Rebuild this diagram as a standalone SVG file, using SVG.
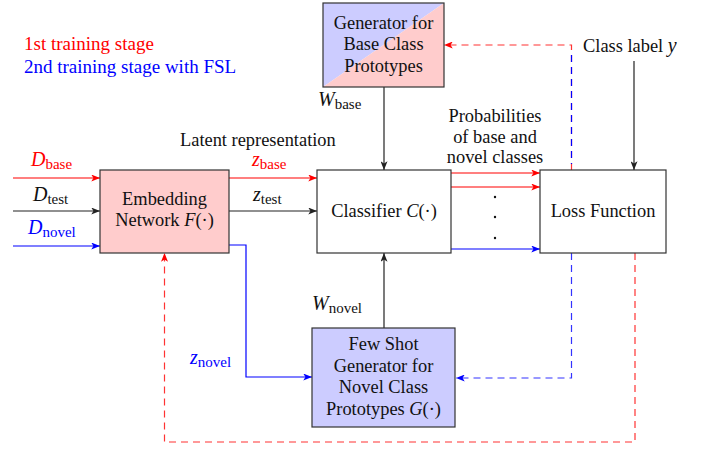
<svg xmlns="http://www.w3.org/2000/svg" width="709" height="449" viewBox="0 0 709 449">
<style>
text{font-family:"Liberation Serif","Times New Roman",serif;font-size:18.4px;fill:#111}
.c{text-anchor:middle}
.i{font-style:italic}
.m{font-style:italic;font-size:20px}
.s{font-size:15px}
.box{stroke:#333;stroke-width:1.2}
.ln{fill:none;stroke-width:1.2}
.k{stroke:#222}
.r{stroke:#ff0000}
.b{stroke:#0000ff}
.dr{stroke:#ff3333;stroke-dasharray:7 5}
.db{stroke:#0000ff;stroke-dasharray:7 5}
.red{fill:#ff0000}
.blue{fill:#0000ff}
</style>
<defs>
<marker id="ak" viewBox="0 0 10 8" refX="10" refY="4" markerWidth="9" markerHeight="7" markerUnits="userSpaceOnUse" orient="auto"><path d="M0,0 L10,4 L0,8 L2.5,4 z" fill="#222"/></marker>
<marker id="ar" viewBox="0 0 10 8" refX="10" refY="4" markerWidth="9" markerHeight="7" markerUnits="userSpaceOnUse" orient="auto"><path d="M0,0 L10,4 L0,8 L2.5,4 z" fill="#ff0000"/></marker>
<marker id="ab" viewBox="0 0 10 8" refX="10" refY="4" markerWidth="9" markerHeight="7" markerUnits="userSpaceOnUse" orient="auto"><path d="M0,0 L10,4 L0,8 L2.5,4 z" fill="#0000ff"/></marker>
</defs>
<rect width="709" height="449" fill="#fff"/>

<g id="legend">
<text x="24" y="50" class="red" style="font-size:19px">1st training stage</text>
<text x="24" y="73" class="blue" style="font-size:19px">2nd training stage with FSL</text>
</g>

<g id="connectors">
<!-- inputs -->
<path class="ln r" d="M13,178 H100" marker-end="url(#ar)"/>
<path class="ln k" d="M13,211 H100" marker-end="url(#ak)"/>
<path class="ln b" d="M13,246 H100" marker-end="url(#ab)"/>
<!-- embedding to classifier -->
<path class="ln r" d="M229,178 H317" marker-end="url(#ar)"/>
<path class="ln k" d="M229,211 H317" marker-end="url(#ak)"/>
<path class="ln b" d="M229,245 H246 V377 H312" marker-end="url(#ab)"/>
<!-- generators to classifier -->
<path class="ln k" d="M384,87 V170" marker-end="url(#ak)"/>
<path class="ln k" d="M384,328 V253" marker-end="url(#ak)"/>
<!-- classifier to loss -->
<path class="ln r" d="M451,173 H540" marker-end="url(#ar)"/>
<path class="ln r" d="M451,187 H540" marker-end="url(#ar)"/>
<path class="ln b" d="M451,249 H540" marker-end="url(#ab)"/>
<!-- class label -->
<path class="ln k" d="M634,61 V170" marker-end="url(#ak)"/>
<!-- loss feedback to base generator -->
<path class="ln dr" d="M571.5,170 V45 H444" marker-end="url(#ar)"/>
<path class="ln db" d="M571.5,164 V50" style="stroke-dashoffset:6"/>
<!-- loss feedback to few shot generator -->
<path class="ln db" d="M571.5,253 V378 H456" marker-end="url(#ab)" style="stroke:#3333ff"/>
<!-- loss feedback to embedding -->
<path class="ln dr" d="M635,253 V442 H164.5 V253" marker-end="url(#ar)"/>
</g>

<g id="embedding">
<rect class="box" x="100" y="170" width="129" height="83" fill="#ffcccc"/>
<text x="164.5" y="205" class="c">Embedding</text>
<text x="164.5" y="226" class="c">Network <tspan class="i">F</tspan>(·)</text>
</g>

<g id="base-generator">
<polygon points="323,3 444,3 323,87" fill="#ccccff"/>
<polygon points="444,3 444,87 323,87" fill="#ffcccc"/>
<rect class="box" x="323" y="3" width="121" height="84" fill="none"/>
<text x="383.5" y="29" class="c">Generator for</text>
<text x="383.5" y="50" class="c">Base Class</text>
<text x="383.5" y="72" class="c">Prototypes</text>
</g>

<g id="classifier">
<rect class="box" x="317" y="170" width="134" height="83" fill="#fff"/>
<text x="384" y="217" class="c">Classifier <tspan class="i">C</tspan>(·)</text>
</g>

<g id="loss">
<rect class="box" x="540" y="170" width="126" height="83" fill="#fff"/>
<text x="603" y="217" class="c">Loss Function</text>
</g>

<g id="fewshot-generator">
<rect class="box" x="312" y="328" width="143" height="99" fill="#ccccff"/>
<text x="383.5" y="350" class="c">Few Shot</text>
<text x="383.5" y="372" class="c">Generator for</text>
<text x="383.5" y="393" class="c">Novel Class</text>
<text x="383.5" y="415" class="c">Prototypes <tspan class="i">G</tspan>(·)</text>
</g>

<g id="labels">
<text x="31" y="166" class="red"><tspan class="m">D</tspan><tspan class="s" dy="3">base</tspan></text>
<text x="33" y="201"><tspan class="m">D</tspan><tspan class="s" dy="3">test</tspan></text>
<text x="28" y="234" class="blue"><tspan class="m">D</tspan><tspan class="s" dy="3">novel</tspan></text>
<text x="252" y="166" class="red"><tspan class="m">z</tspan><tspan class="s" dy="3">base</tspan></text>
<text x="253" y="201"><tspan class="m">z</tspan><tspan class="s" dy="3">test</tspan></text>
<text x="190" y="364" class="blue"><tspan class="m">z</tspan><tspan class="s" dy="3">novel</tspan></text>
<text x="318" y="106"><tspan class="m">W</tspan><tspan class="s" dy="3">base</tspan></text>
<text x="312" y="310"><tspan class="m">W</tspan><tspan class="s" dy="3">novel</tspan></text>
<text x="180" y="146">Latent representation</text>
<text x="495" y="122" class="c">Probabilities</text>
<text x="495" y="143" class="c">of base and</text>
<text x="495" y="163" class="c">novel classes</text>
<text x="583" y="52">Class label <tspan class="m">y</tspan></text>
<circle cx="495" cy="197" r="1.2" fill="#111"/>
<circle cx="495" cy="217" r="1.2" fill="#111"/>
<circle cx="495" cy="238" r="1.2" fill="#111"/>
</g>
</svg>
